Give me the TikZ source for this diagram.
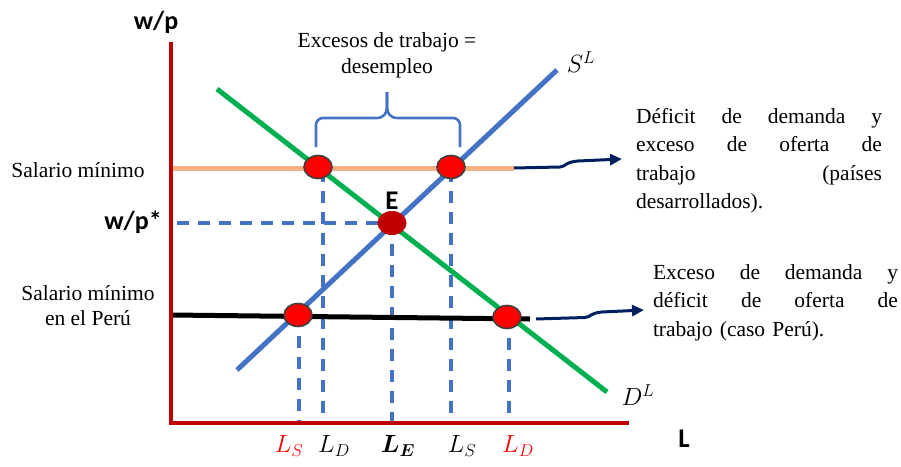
\documentclass[tikz,border=0pt]{standalone}
\usepackage{bm}
\usepackage{fontspec}
\setmainfont{Liberation Serif}
\newfontfamily\calib{Carlito}
\usetikzlibrary{shapes.geometric,arrows.meta}
\definecolor{axred}{HTML}{C00000}
\definecolor{dgreen}{HTML}{00B050}
\definecolor{sblue}{HTML}{4472C4}
\definecolor{peach}{HTML}{F4B183}
\definecolor{navy}{HTML}{002060}
\definecolor{dotborder}{HTML}{404040}
\tikzset{
  axisline/.style={draw=axred,line width=4.5pt,line join=miter},
  curveline/.style={line width=5pt},
  dashline/.style={draw=sblue,line width=3.3pt,dash pattern=on 12pt off 9pt},
  redDot/.style={ellipse,fill=red,draw=dotborder,line width=1.6pt,minimum width=28pt,minimum height=23pt,inner sep=0pt},
  eDot/.style={ellipse,fill=axred,minimum width=29pt,minimum height=24pt,inner sep=0pt},
  tnr/.style={font=\fontsize{21.5}{25}\selectfont,inner sep=0pt},
  sbold/.style={font=\calib\bfseries\fontsize{26}{26}\selectfont,inner sep=0pt},
  sboldsmall/.style={font=\calib\bfseries\fontsize{27}{27}\selectfont,inner sep=0pt},
  mlab/.style={font=\fontsize{27}{27}\selectfont,inner sep=0pt},
  bracestyle/.style={draw=sblue,line width=2.6pt},
  navyarrow/.style={draw=navy,line width=3pt,-{Triangle[length=12pt,width=11pt]}},
  block/.style={font=\fontsize{21.5}{28.5}\selectfont,text width=246pt,align=left,inner sep=0pt}
}
\begin{document}
\begin{tikzpicture}[x=1pt,y=-1pt]
\useasboundingbox (0,0) rectangle (901,466);
% key coordinates
\coordinate (O) at (171,423);
\coordinate (Ytop) at (171,42);
\coordinate (Xend) at (629,423);
\coordinate (Dstart) at (217,89);
\coordinate (Dend) at (607,392);
\coordinate (Sstart) at (237,370);
\coordinate (Send) at (557,70);
\coordinate (Mstart) at (171,168);
\coordinate (Mend) at (514,168);
\coordinate (Pstart) at (171,315);
\coordinate (Pend) at (530,319);
% dashed guides
\draw[dashline] (323,170) -- (323,423);
\draw[dashline] (451,170) -- (451,423);
\draw[dashline] (392,223) -- (392,423);
\draw[dashline] (299,315) -- (299,423);
\draw[dashline] (509,317) -- (509,423);
\draw[dashline] (177,223) -- (392,223);
% lines
\draw[curveline,draw=peach] (Mstart) -- (Mend);
\draw[curveline,draw=black] (Pstart) -- (Pend);
\draw[curveline,draw=dgreen] (Dstart) -- (Dend);
\draw[curveline,draw=sblue] (Sstart) -- (Send);
% axes
\draw[axisline] (Ytop) -- (O) -- (Xend);
% dots
\node[redDot] (d1) at (318,167) {};
\node[redDot] (d2) at (451,167) {};
\node[redDot] (d3) at (298,315) {};
\node[redDot] (d4) at (507,317) {};
\node[eDot] (E) at (392,223) {};
% brace
\draw[bracestyle] (387,92) -- (387,104) .. controls (387,114) and (384,118) .. (376,118) [rounded corners=7pt] -- (316,118) -- (316,147);
\draw[bracestyle] (387,92) -- (387,104) .. controls (387,114) and (390,118) .. (398,118) [rounded corners=7pt] -- (460,118) -- (460,147);
% arrows
\coordinate (tip1) at (622,159);
\coordinate (tip2) at (644,310);
\coordinate (Pend2) at (536,319);
\draw[navyarrow] (Mend) -- (560,167) .. controls (566,166.5) and (565,162) .. (578,161) -- (tip1);
\draw[navyarrow] (Pend2) -- (585,317.5) .. controls (591,317) and (590,313) .. (602,312) -- (tip2);
% labels
\node[sbold] (wp) at (156,22) {w/p};
\node[sbold] (wpstar) at (133,222) {w/p*};
\node[sboldsmall] (Elab) at (392,201) {E};
\node[sboldsmall] (Llab) at (684,439) {L};
\node[tnr] (smin) at (78,170) {Salario mínimo};
\node[tnr,align=center] (sminp) at (88,306) {Salario mínimo\\en el Perú};
\node[tnr,align=center,font=\fontsize{21.5}{26}\selectfont] (exc) at (387,55) {Excesos de trabajo =\\desempleo};
\node[mlab] (SL) at (581,62) {$S^L$};
\node[mlab] (DL) at (638,395) {$D^L$};
\node[mlab,text=red] (ls1) at (289,446) {$L_S$};
\node[mlab] (ld1) at (334,446) {$L_D$};
\node[mlab] (le) at (398,446) {$\bm{L_E}$};
\node[mlab] (ls2) at (462,446) {$L_S$};
\node[mlab,text=red] (ld2) at (518,446) {$L_D$};
\node[block] (b1) at (759,160.5) {\makebox[246pt][s]{Déficit\hfill de\hfill demanda\hfill y}\\\makebox[246pt][s]{exceso\hfill de\hfill oferta\hfill de}\\\makebox[246pt][s]{trabajo\hfill (países}\\desarrollados).};
\node[block,text width=245pt] (b2) at (775.5,302.5) {\makebox[245pt][s]{Exceso\hfill de\hfill demanda\hfill y}\\\makebox[245pt][s]{déficit\hfill de\hfill oferta\hfill de}\\trabajo (caso Perú).};
\end{tikzpicture}
\end{document}
